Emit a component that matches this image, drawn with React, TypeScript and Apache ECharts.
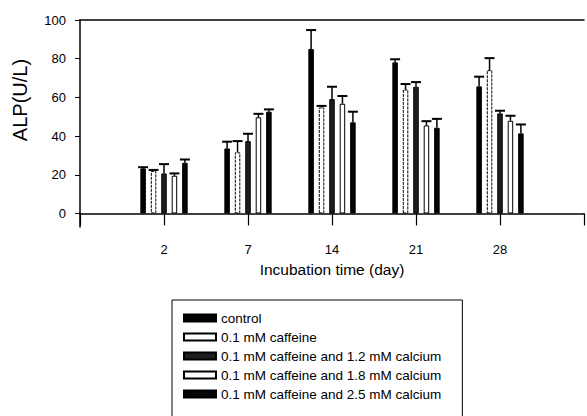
import React, { useEffect, useRef } from "react";
import * as echarts from "echarts";

const categories = ["", "2", "7", "14", "21", "28", ""];
const seriesNames = [
  "control",
  "0.1 mM caffeine",
  "0.1 mM caffeine and 1.2 mM calcium",
  "0.1 mM caffeine and 1.8 mM calcium",
  "0.1 mM caffeine and 2.5 mM calcium",
];
const control = [23.3, 33.6, 85.0, 78.1, 65.7];
const caffeine = [22.0, 31.6, 54.8, 64.1, 74.1];
const calcium12 = [20.7, 37.4, 59.1, 65.5, 51.7];
const calcium18 = [19.5, 49.7, 56.7, 45.5, 47.9];
const calcium25 = [26.2, 52.6, 47.1, 44.3, 41.4];
const controlErr = [0.6, 3.5, 9.8, 1.6, 5.0];
const caffeineErr = [0.5, 5.8, 0.8, 2.8, 6.2];
const calcium12Err = [4.8, 3.8, 6.4, 2.4, 1.4];
const calcium18Err = [1.2, 1.8, 4.0, 2.2, 2.6];
const calcium25Err = [1.7, 1.2, 5.5, 4.6, 4.6];
const yTicks = [0, 20, 40, 60, 80, 100];

const FONT = "'Liberation Sans', Arial, Helvetica, sans-serif";
const BAR_W = 5.5;
const BAR_GAP = 0.9;

export default function App() {
  const ref = useRef<HTMLDivElement>(null);
  useEffect(() => {
    if (!ref.current) return;
    const chart = echarts.init(ref.current, null, { renderer: "svg" });
    const values = [control, caffeine, calcium12, calcium18, calcium25];
    const errs = [controlErr, caffeineErr, calcium12Err, calcium18Err, calcium25Err];
    const styles = [
      { color: "#000", borderColor: "#000", borderWidth: 1 },
      { color: "#fff", borderColor: "#000", borderWidth: 1, borderType: [3, 1] },
      { color: "#1e1e1e", borderColor: "#000", borderWidth: 1 },
      { color: "#fff", borderColor: "#000", borderWidth: 1 },
      { color: "#050505", borderColor: "#000", borderWidth: 1 },
    ];
    const barSeries = values.map((v, i) => ({
      name: seriesNames[i],
      type: "bar",
      barWidth: BAR_W,
      barGap: BAR_GAP * 100 + "%",
      data: ["-", ...v, "-"],
      itemStyle: styles[i],
      z: 2,
    }));
    const errData: number[][] = [];
    errs.forEach((e, si) => {
      e.forEach((err, ci) => {
        errData.push([ci + 1, values[si][ci], err, si]);
      });
    });
    const errSeries = {
      type: "custom",
      name: "err",
      z: 5,
      renderItem: (params: any, api: any) => {
        const ci = api.value(0);
        const v = api.value(1);
        const e = api.value(2);
        const si = api.value(3);
        const off = (si - 2) * BAR_W * (1 + BAR_GAP);
        const p0 = api.coord([ci, v]);
        const p1 = api.coord([ci, v + e]);
        const x = p0[0] + off;
        return {
          type: "group",
          children: [
            {
              type: "line",
              shape: { x1: x, y1: p0[1], x2: x, y2: p1[1] },
              style: { stroke: "#000", lineWidth: 1.5 },
            },
            {
              type: "line",
              shape: { x1: x - 5, y1: p1[1], x2: x + 5, y2: p1[1] },
              style: { stroke: "#000", lineWidth: 2 },
            },
          ],
        };
      },
      encode: { x: 0, y: 1 },
      data: errData,
      silent: true,
    };
    chart.setOption({
      animation: false,
      textStyle: { fontFamily: FONT },
      grid: { left: 80, right: 0, top: 20, bottom: 189, containLabel: false },
      xAxis: [
        {
          type: "category",
          data: categories,
          boundaryGap: false,
          axisLine: { onZero: true, lineStyle: { color: "#000", width: 1.5 } },
          axisTick: { show: true, length: 12, lineStyle: { color: "#000", width: 1.2 } },
          axisLabel: { color: "#000", fontSize: 13, margin: 16, fontFamily: FONT },
          splitLine: { show: false },
          name: "Incubation time (day)",
          nameLocation: "middle",
          nameGap: 34,
          nameTextStyle: { color: "#000", fontSize: 15.5, fontFamily: FONT },
        },
        {
          type: "category",
          data: categories,
          position: "top",
          boundaryGap: false,
          axisLine: { onZero: false, lineStyle: { color: "#000", width: 1.5 } },
          axisTick: { show: false },
          axisLabel: { show: false },
          splitLine: { show: false },
        },
      ],
      yAxis: {
        type: "value",
        min: -7,
        max: 100,
        axisLine: { show: true, lineStyle: { color: "#000", width: 1.5 } },
        axisTick: { show: true, length: 5, customValues: yTicks, lineStyle: { color: "#000" } },
        axisLabel: { color: "#000", fontSize: 13, margin: 14, customValues: yTicks, fontFamily: FONT },
        splitLine: { show: false },
      },
      legend: {
        data: seriesNames,
        orient: "vertical",
        left: 172,
        top: 300,
        height: 140,
        padding: [11, 21, 30, 11],
        itemWidth: 32,
        itemHeight: 7,
        itemGap: 5,
        icon: "rect",
        selectedMode: false,
        borderColor: "#000",
        borderWidth: 1,
        textStyle: { color: "#000", fontSize: 13.5, lineHeight: 14, fontFamily: FONT },
      },
      graphic: [
        {
          type: "text",
          x: 20,
          y: 100,
          rotation: Math.PI / 2,
          style: {
            text: "ALP(U/L)",
            fontSize: 20,
            fontFamily: FONT,
            fill: "#000",
            textAlign: "center",
            textVerticalAlign: "middle",
          },
        },
      ],
      series: [...barSeries, errSeries],
    });
    return () => chart.dispose();
  }, []);
  return <div ref={ref} style={{ width: 587, height: 416, position: "absolute", left: 0, top: 0 }} />;
}
